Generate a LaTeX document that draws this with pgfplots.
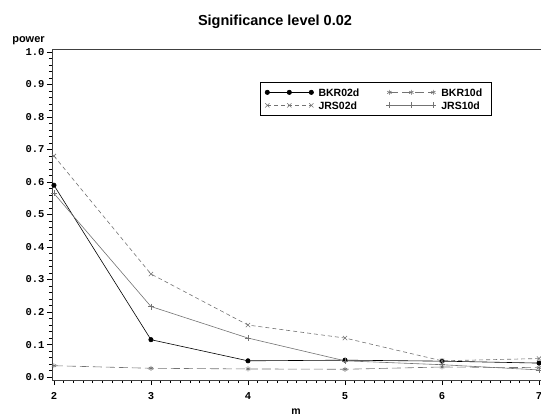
\documentclass[border=0pt]{standalone}
\usepackage{fontspec}
\setmainfont{Liberation Sans}
\newfontfamily\tickfont{Liberation Mono}
\usepackage{pgfplots}
\pgfplotsset{compat=1.18}
\definecolor{lg}{gray}{0.45}
\begin{document}
\begin{tikzpicture}[x=1pt,y=1pt]
\begin{axis}[
  scale only axis,
  width=489pt, height=331pt,
  xmin=1.98, xmax=7.02,
  ymin=-0.009, ymax=1.009,
  axis line style={black!75, line width=0.7pt},
  xtick={2,3,4,5,6,7},
  ytick={0,0.1,...,1.0},
  minor x tick num=9,
  minor y tick num=4,
  tick align=outside,
  tick pos=left,
  major tick length=5pt,
  minor tick length=3pt,
  every tick/.style={black, line width=0.5pt},
  yticklabel style={/pgf/number format/fixed,/pgf/number format/fixed zerofill,/pgf/number format/precision=1,/pgf/number format/assume math mode=true,xshift=1pt},
  xticklabel style={/pgf/number format/assume math mode=true,yshift=-4pt},
  ticklabel style={font=\tickfont\bfseries\fontsize{10.5}{11}\selectfont},
  legend columns=2,
  legend style={at={(rel axis cs:0.4254,0.9003)}, anchor=north west, draw=black, line width=1.2pt,
    font=\bfseries\fontsize{10.5}{11}\selectfont, inner xsep=4.5pt, inner ysep=5pt, row sep=3.5pt,
    nodes={inner xsep=5pt, inner ysep=1pt, text height=7.5pt, text depth=0pt},
    /tikz/every even column/.append style={column sep=22pt}},
  legend cell align=left,
  legend image code/.code={\draw[#1] plot coordinates {(0pt,0pt) (22pt,0pt) (44pt,0pt)};},
]
\addplot[black, line width=0.6pt, mark=*, mark size=2.2pt, mark options={solid}] coordinates {
(2,0.59) (3,0.115) (4,0.05) (5,0.052) (6,0.049) (7,0.043)};
\addlegendentry{BKR02d}
\addplot[lg, line width=0.6pt, dash pattern=on 9pt off 4pt, mark=asterisk, mark size=2.5pt, mark options={solid}] coordinates {
(2,0.035) (3,0.027) (4,0.025) (5,0.024) (6,0.031) (7,0.029)};
\addlegendentry{BKR10d}
\addplot[lg, line width=0.6pt, dash pattern=on 4pt off 3pt, mark=x, mark size=3pt, mark options={solid}] coordinates {
(2,0.68) (3,0.317) (4,0.16) (5,0.12) (6,0.05) (7,0.057)};
\addlegendentry{JRS02d}
\addplot[lg, line width=0.6pt, mark=+, mark size=3pt, mark options={solid}] coordinates {
(2,0.565) (3,0.217) (4,0.12) (5,0.05) (6,0.038) (7,0.022)};
\addlegendentry{JRS10d}
\end{axis}
\node[font=\bfseries\fontsize{11}{12}\selectfont, anchor=base] at (-23.5,337) {power};
\node[font=\bfseries\fontsize{14.5}{16}\selectfont] at (223,358) {Significance level 0.02};
\node[font=\bfseries\fontsize{10.5}{11}\selectfont, anchor=base] at (244,-34.5) {m};
\pgfresetboundingbox
\useasboundingbox (-52,-36) rectangle (489,380);
\end{tikzpicture}
\end{document}
